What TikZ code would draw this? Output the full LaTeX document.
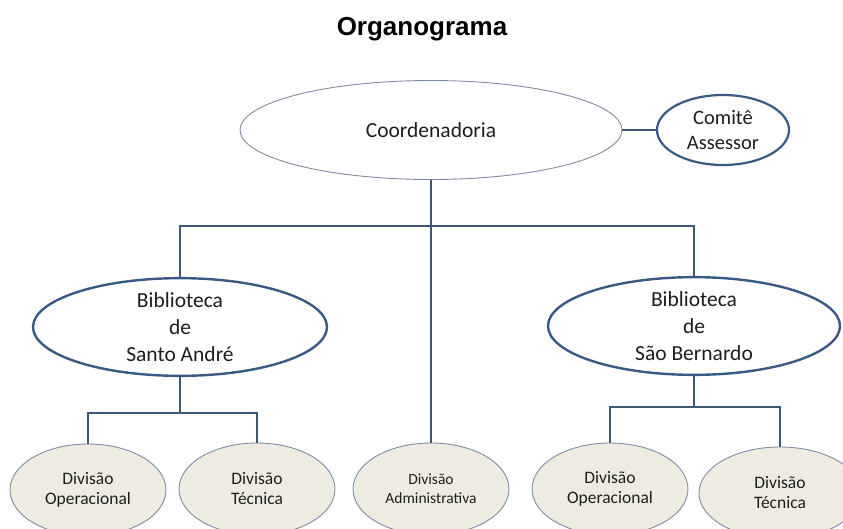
\documentclass[tikz,border=0pt]{standalone}
\usepackage{fontspec}
\setmainfont{Carlito}
\newfontfamily\titlefont{Liberation Sans}
\usetikzlibrary{shapes.geometric}
\definecolor{thinedge}{HTML}{7D8CA3}
\definecolor{thickedge}{HTML}{3A5A86}
\definecolor{linkcol}{HTML}{3E5877}
\definecolor{divfill}{HTML}{EEECE1}
\definecolor{txt}{HTML}{1E1E1E}
\tikzset{
  oval/.style={ellipse, inner sep=0pt, align=center, text=txt},
  topoval/.style={oval, draw=thinedge, line width=0.9pt, fill=white,
     font=\fontsize{21.5}{27}\selectfont},
  bigoval/.style={oval, draw=thickedge, line width=2.4pt, fill=white,
     font=\fontsize{21.5}{27}\selectfont},
  comoval/.style={oval, draw=thickedge, line width=2.2pt, fill=white,
     font=\fontsize{20.5}{25}\selectfont},
  divoval/.style={oval, draw=thinedge, line width=0.9pt, fill=divfill,
     minimum width=156pt, minimum height=92pt, font=\fontsize{17.5}{20}\selectfont},
  link/.style={draw=linkcol, line width=1.1pt}
}
\begin{document}
\begin{tikzpicture}[x=1pt,y=-1pt]
\useasboundingbox (0,0) rectangle (843,528);
\node[font=\titlefont\bfseries\fontsize{26}{30}\selectfont, text=black] (title) at (422,29) {Organograma};

\node[topoval, minimum width=382pt, minimum height=99pt] (coord) at (431,130) {Coordenadoria};
\node[comoval, minimum width=132pt, minimum height=70pt] (comite) at (723,130) {Comitê\\Assessor};

\node[bigoval, minimum width=294pt, minimum height=90pt] (bsa) at (180,327) {Biblioteca\\de\\Santo André};
\node[bigoval, minimum width=292pt, minimum height=88pt] (bsb) at (694,326) {Biblioteca\\de\\São Bernardo};

\node[divoval] (opl) at (88,490) {Divisão\\Operacional};
\node[divoval] (tecl) at (257,489) {Divisão\\Técnica};
\node[divoval, font=\fontsize{15.5}{19}\selectfont] (adm) at (431,489) {Divisão\\Administrativa};
\node[divoval] (opr) at (610,489) {Divisão\\Operacional};
\node[divoval, minimum width=162pt] (tecr) at (780,493) {Divisão\\Técnica};

\coordinate (bar) at (431,226);
\coordinate (barl) at (180,413);
\coordinate (barr) at (694,407);

\draw[link] (coord.east) -- (comite.west);
\draw[link] (coord.south) -- (adm.north);
\draw[link] (bsa.north) |- (bar) -| (bsb.north);
\draw[link] (bsa.south) -- (barl);
\draw[link] (opl.north) |- (barl) -| (tecl.north);
\draw[link] (bsb.south) -- (barr);
\draw[link] (opr.north) |- (barr) -| (tecr.north);
\end{tikzpicture}
\end{document}
